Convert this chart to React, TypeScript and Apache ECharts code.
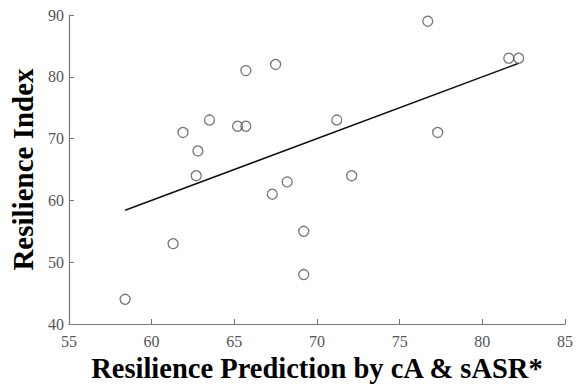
import React, { useEffect, useRef } from "react";
import * as echarts from "echarts";

const predicted: number[] = [58.4, 61.3, 61.9, 62.8, 62.7, 63.5, 65.2, 65.7, 65.7, 67.5, 67.3, 68.2, 69.2, 69.2, 71.2, 72.1, 76.7, 77.3, 81.6, 82.2];
const resilience: number[] = [44, 53, 71, 68, 64, 73, 72, 72, 81, 82, 61, 63, 55, 48, 73, 64, 89, 71, 83, 83];
const fitX: number[] = [58.4, 82.2];
const fitY: number[] = [58.4, 82.2];
const xTitle = "Resilience Prediction by cA & sASR*";
const yTitle = "Resilience Index";

export default function App() {
  const ref = useRef<HTMLDivElement>(null);
  useEffect(() => {
    if (!ref.current) return;
    const chart = echarts.init(ref.current, undefined, { renderer: "svg" });
    const font = "Liberation Serif";
    const tickFont = "serif";
    chart.setOption({
      animation: false,
      backgroundColor: "#fff",
      textStyle: { fontFamily: tickFont },
      grid: { left: 67, right: 8, top: 15, bottom: 65, containLabel: false },
      xAxis: {
        type: "value",
        min: 55,
        max: 85,
        interval: 5,
        name: xTitle,
        nameLocation: "middle",
        nameGap: 26,
        nameTextStyle: { fontFamily: font, fontWeight: "bold", fontSize: 28.5, color: "#000" },
        axisLine: { show: true, lineStyle: { color: "#777", width: 1.2 } },
        axisTick: { show: true, inside: true, length: 5, lineStyle: { color: "#777" } },
        axisLabel: { fontFamily: tickFont, fontSize: 16, color: "#555", margin: 9 },
        splitLine: { show: false },
      },
      yAxis: {
        type: "value",
        min: 40,
        max: 90,
        interval: 10,
        name: yTitle,
        nameLocation: "middle",
        nameGap: 28,
        nameTextStyle: { fontFamily: font, fontWeight: "bold", fontSize: 29, color: "#000" },
        axisLine: { show: true, lineStyle: { color: "#777", width: 1.2 } },
        axisTick: { show: true, inside: true, length: 5, lineStyle: { color: "#777" } },
        axisLabel: { fontFamily: tickFont, fontSize: 16, color: "#555", margin: 5 },
        splitLine: { show: false },
      },
      series: [
        {
          type: "line",
          data: fitX.map((x, i) => [x, fitY[i]]),
          symbol: "none",
          lineStyle: { color: "#111", width: 1.5 },
          z: 2,
        },
        {
          type: "scatter",
          data: predicted.map((x, i) => [x, resilience[i]]),
          symbol: "circle",
          symbolSize: 10,
          itemStyle: { color: "rgba(0,0,0,0)", borderColor: "#555", borderWidth: 1.3 },
          z: 3,
        },
      ],
    });
    return () => chart.dispose();
  }, []);
  return <div ref={ref} style={{ width: 576, height: 389, position: "absolute", left: 0, top: 0 }} />;
}
